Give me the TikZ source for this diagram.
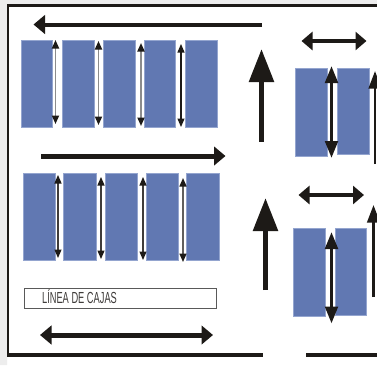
\documentclass[tikz,border=0pt]{standalone}
\usepackage{fontspec}
\setmainfont{Liberation Sans}
\usetikzlibrary{arrows.meta}
\definecolor{azul}{HTML}{6178B2}
\definecolor{azulclaro}{HTML}{94A5CF}
\definecolor{negro}{HTML}{1D1A17}
\tikzset{
  caja/.style={fill=azul,draw=azulclaro,line width=.6pt},
  flecha/.style={draw=negro,line width=5pt,-{Triangle[length=11.5pt,width=18.5pt,fill=negro]}},
  flechados/.style={draw=negro,line width=4pt,{Triangle[length=11pt,width=18pt,fill=negro]}-{Triangle[length=11pt,width=18pt,fill=negro]}},
  flechaalta/.style={draw=negro,line width=5.5pt,-{Triangle[length=33pt,width=24pt,fill=negro]}},
  pasillo/.style={draw=negro,line width=3.5pt,{Triangle[length=17pt,width=12.5pt,fill=negro]}-{Triangle[length=17pt,width=12.5pt,fill=negro]}},
  lateral/.style={draw=negro,line width=2.6pt,-{Triangle[length=17.5pt,width=12.5pt,fill=negro]}},
  fina/.style={{Triangle[length=8.5pt,width=7pt,color=negro,fill=negro]}-{Triangle[length=8.5pt,width=7pt,color=negro,fill=negro]}},
}
\begin{document}
\begin{tikzpicture}[x=1pt,y=-1pt,line join=miter]
  \useasboundingbox (0,0) rectangle (377,365);
  \fill[white] (0,0) rectangle (377,365);
  \fill[black!7] (0,0) rectangle (377,4) (0,0) rectangle (7,365);
  \path
  (7,5.5) coordinate (A)
  (377,5.5) coordinate (B)
  (8,4) coordinate (C)
  (8,357) coordinate (D)
  (7,355) coordinate (E)
  (263,355) coordinate (F)
  (306,355) coordinate (G)
  (377,355) coordinate (H);
  % marco
  \draw[negro,line width=3.2pt] (A)--(B);
  \draw[negro,line width=2.6pt] (C)--(D);
  \draw[negro,line width=4pt] (E)--(F) (G)--(H);
  % cajas de la izquierda
  \foreach \a/\b in {21.5/52.5,62/94.5,103/135,144.7/175.5,185/217}
  \draw[caja] (\a,40)rectangle(\b,127);
  \foreach \a/\b in {23/55,63.5/96,105.5/137,146/178,186.5/219}
  \draw[caja] (\a,173)rectangle(\b,260);
  % cajas de la derecha
  \draw[caja] (295.5,68)rectangle(327,156);
  \draw[caja] (337,68)rectangle(369,154.5);
  \draw[caja] (293,228)rectangle(325.5,316.5);
  \draw[caja] (335.5,228)rectangle(366.5,315);
  % flechas finas
  \foreach \x/\a/\b/\c/\w in {55.5/40/124/black!45/1.8,98.5/41/125/black!45/1.8,141/43/126/black!45/1.8,181/44/127/negro/1.1,
    58/175/258/negro!85/1.2,101/177/259/negro!85/1.2,143/177/260/negro!85/1.2,183/178/262/negro!70/1.5}
  \draw[fina,draw=\c,line width=\w pt] (\x,\a)--(\x,\b);
  % flechas de los pasillos
  \path
  (262,24.5) coordinate (P)
  (33.5,24.5) coordinate (Q)
  (41,156) coordinate (R)
  (225.5,156) coordinate (S)
  (40,335) coordinate (T)
  (213,335) coordinate (U)
  (261.5,141.5) coordinate (V)
  (261.5,49) coordinate (W)
  (265.5,290) coordinate (X)
  (265.5,198) coordinate (Y);
  \draw[flecha,line width=4pt] (P)--(Q);
  \draw[flecha] (R)--(S);
  \draw[flecha,{Triangle[length=11.5pt,width=18.5pt,fill=negro]}-{Triangle[length=11.5pt,width=18.5pt,fill=negro]}] (T)--(U);
  \draw[flechaalta] (V)--(W);
  \draw[flechaalta] (X)--(Y);
  \draw[flechados] (301.5,41)--(366.5,41);
  \draw[flechados] (298.5,195)--(364,195);
  \draw[pasillo] (331.5,66)--(331.5,158);
  \draw[pasillo] (331.5,232)--(331.5,323.5);
  \draw[lateral] (375,164)--(375,71);
  \draw[lateral] (373.5,297)--(373.5,205);
  % linea de cajas
  \node[draw=black!65,line width=.9pt,minimum width=192.5pt,minimum height=20pt,inner sep=0pt,anchor=north west] (lineacajas) at (23.5,288) {};
  \node[xscale=.58,inner sep=0pt,anchor=west,text=negro!85,font=\fontsize{16}{17}\selectfont] (cajastxt) at (42,296.5) {LÍNEA DE CAJAS};
\end{tikzpicture}
\end{document}
